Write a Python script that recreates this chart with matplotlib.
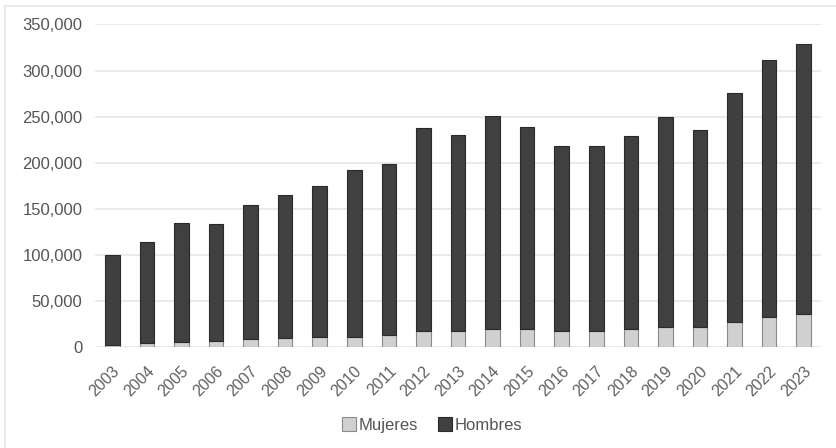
import matplotlib
matplotlib.use("Agg")
import matplotlib.pyplot as plt
from matplotlib.lines import Line2D
from matplotlib.ticker import FuncFormatter
from matplotlib.transforms import ScaledTranslation

years = [str(y) for y in range(2003, 2024)]
mujeres = [2000, 4000, 5500, 6000, 8000, 9000, 10500, 11000, 12700, 17000, 16800,
           19000, 18700, 17000, 17000, 19300, 21000, 21000, 27000, 32000, 35500]
hombres = [98000, 109500, 129300, 127700, 146000, 156000, 164500, 181000, 185800, 220400, 213200,
           231800, 220100, 201500, 200800, 209400, 228300, 214500, 248800, 279600, 293800]
yticks = [0, 50000, 100000, 150000, 200000, 250000, 300000, 350000]

plt.rcParams["font.family"] = ["Liberation Sans", "DejaVu Sans"]
fig = plt.figure(figsize=(8.36, 4.48), dpi=100)
ax = fig.add_axes([95/836, (448-346.7)/448, 726/836, (346.7-24.5)/448])

x = range(len(years))
ax.bar(x, mujeres, width=0.42, color="#d0d0d0", edgecolor="#8a8a8a", lw=0.8, label="Mujeres", zorder=3)
ax.bar(x, hombres, bottom=mujeres, width=0.42, color="#404040", edgecolor="#2a2a2a", lw=0.8,
       label="Hombres", zorder=3)

ax.set_xlim(-0.5, len(years) - 0.5)
ax.set_ylim(0, 350000)
ax.set_yticks(yticks)
ax.yaxis.set_major_formatter(FuncFormatter(lambda v, p: f"{int(v):,}"))
ax.grid(axis="y", color="#e6e6e6", lw=1.2, zorder=0)
for s in ax.spines.values():
    s.set_visible(False)
ax.tick_params(length=0, colors="#555555", labelsize=12)
ax.tick_params(axis="y", pad=9)
ax.set_xticks(list(x))
ax.set_xticklabels(years, rotation=45, ha="right", va="center", rotation_mode="anchor",
                   fontsize=11.5, color="#606060")
ax.tick_params(axis="x", pad=16)
off = ScaledTranslation(5/100, 0, fig.dpi_scale_trans)
for t in ax.get_xticklabels():
    t.set_transform(t.get_transform() + off)

# light frame (top and left edges visible)
fig.add_artist(Line2D([5/836, 1], [1-6/448, 1-6/448], color="#e6e6e6", lw=1.2))
fig.add_artist(Line2D([5/836, 5/836], [0, 1-6/448], color="#e6e6e6", lw=1.2))

fig.legend(loc="center", bbox_to_anchor=(432/836, 1-425/448), ncol=2, frameon=False,
           fontsize=12, labelcolor="#555555", handlelength=0.85, handleheight=0.85,
           handletextpad=0.15, columnspacing=1.2)

fig.savefig("out.png", dpi=100)
